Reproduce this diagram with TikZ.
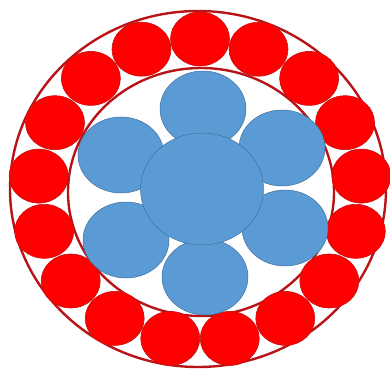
\documentclass[tikz,border=0pt]{standalone}
\usepackage{xcolor}
\usepackage{tikz}
\usetikzlibrary{calc}
\definecolor{ballred}{HTML}{FF0000}
\definecolor{ringred}{HTML}{B81418}
\definecolor{petal}{HTML}{5B9BD5}
\definecolor{petaledge}{HTML}{41719C}
\begin{document}
\begin{tikzpicture}[x=1pt,y=-1pt,
    ring/.style={draw=ringred,line width=2.4pt},
    ball/.style={fill=ballred,draw=ringred!80!ballred,line width=0.6pt},
    pt/.style={fill=petal,draw=petaledge,line width=0.5pt}]
  \useasboundingbox (0,0) rectangle (390,374);
  % raceway
  \draw[ring] (198,189) ellipse [x radius=188, y radius=178];
  \draw[ring] (201,192) ellipse [x radius=133, y radius=124];
  % rolling balls
  \foreach \k in {0,...,16} {
    \pgfmathsetmacro{\ang}{90-\k*360/17}
    \fill[ball] ($(200,190)+(\ang:162 and -151)$) ellipse [x radius=29.5, y radius=27];
  }
  % petals, then hub
  \foreach \nm/\x/\y in {t/203/109, ur/282/148, lr/285/228, b/205/277, ll/126/240, ul/121/155}
    \filldraw[pt] (\x,\y) ellipse [x radius=43, y radius=38];
  \filldraw[pt] (202,189) ellipse [x radius=61.5, y radius=56];
\end{tikzpicture}
\end{document}
